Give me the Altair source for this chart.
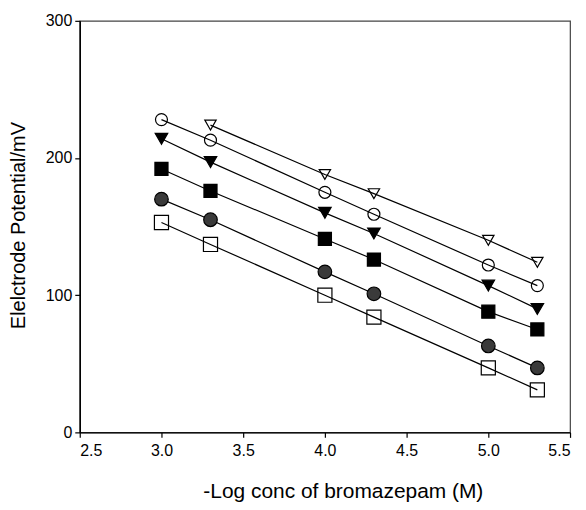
import altair as alt
import pandas as pd

x_vals = [3.0, 3.3, 4.0, 4.3, 5.0, 5.3]
open_triangle = [None, 224, 188, 174, 140, 124]
open_circle = [228, 213, 175, 159, 122, 107]
filled_triangle = [214, 197, 160, 145, 107, 90]
filled_square = [192, 176, 141, 126, 88, 75]
filled_circle = [170, 155, 117, 101, 63, 47]
open_square = [153, 137, 100, 84, 47, 31]

series_names = ["open_triangle", "open_circle", "filled_triangle",
                "filled_square", "filled_circle", "open_square"]
series_vals = [open_triangle, open_circle, filled_triangle,
               filled_square, filled_circle, open_square]
shapes = ["triangle-down", "circle", "triangle-down", "square", "circle", "square"]
fills = ["transparent", "transparent", "black", "black", "#3a3a3a", "transparent"]
sizes = [130, 200, 95, 100, 190, 105]

rows = []
for name, vals in zip(series_names, series_vals):
    for x, y in zip(x_vals, vals):
        if y is not None:
            rows.append({"series": name, "x": x, "y": y})
df = pd.DataFrame(rows)

xscale = alt.Scale(domain=[2.5, 5.5], nice=False, zero=False)
yscale = alt.Scale(domain=[0, 300], nice=False)

xaxis = alt.Axis(values=[2.5, 3.0, 3.5, 4.0, 4.5, 5.0, 5.5], format=".1f",
                 title="-Log conc of bromazepam (M)", titleBaseline="alphabetic",
                 titleY=65, titleX=264, titleAlign="center", titleFontSize=21,
                 labelPadding=5)
yaxis = alt.Axis(values=[0, 100, 200, 300], title="Elelctrode Potential/mV",
                 titleX=-61, titleY=205, titleBaseline="middle", titleAlign="center",
                 titleFontSize=20, labelPadding=3)

base = alt.Chart(df)

lines = base.mark_line(color="black", strokeWidth=1.2).encode(
    x=alt.X("x:Q", scale=xscale, axis=xaxis),
    y=alt.Y("y:Q", scale=yscale, axis=yaxis),
    detail="series:N",
)

points = base.mark_point(filled=True, stroke="black", strokeWidth=1.2, opacity=1).encode(
    x=alt.X("x:Q", scale=xscale),
    y=alt.Y("y:Q", scale=yscale),
    shape=alt.Shape("series:N", scale=alt.Scale(domain=series_names, range=shapes), legend=None),
    fill=alt.Fill("series:N", scale=alt.Scale(domain=series_names, range=fills), legend=None),
    size=alt.Size("series:N", scale=alt.Scale(domain=series_names, range=sizes), legend=None),
)

chart = alt.layer(lines, points).properties(
    width=492, height=413,
    autosize=alt.AutoSizeParams(type="none"),
    padding={"left": 72, "top": 12, "right": 8, "bottom": 69},
).configure_view(
    stroke="#444444", strokeWidth=1.2
).configure_axis(
    grid=False, domainColor="black", domainWidth=1.5, tickColor="black",
    tickSize=5, tickWidth=1.2, labelFont="Liberation Sans", labelFontSize=16,
    labelColor="black", titleFont="Liberation Sans",
    titleFontWeight="normal", titleColor="black",
)

chart.save("out.html", embed_options={"renderer": "svg", "actions": False})
